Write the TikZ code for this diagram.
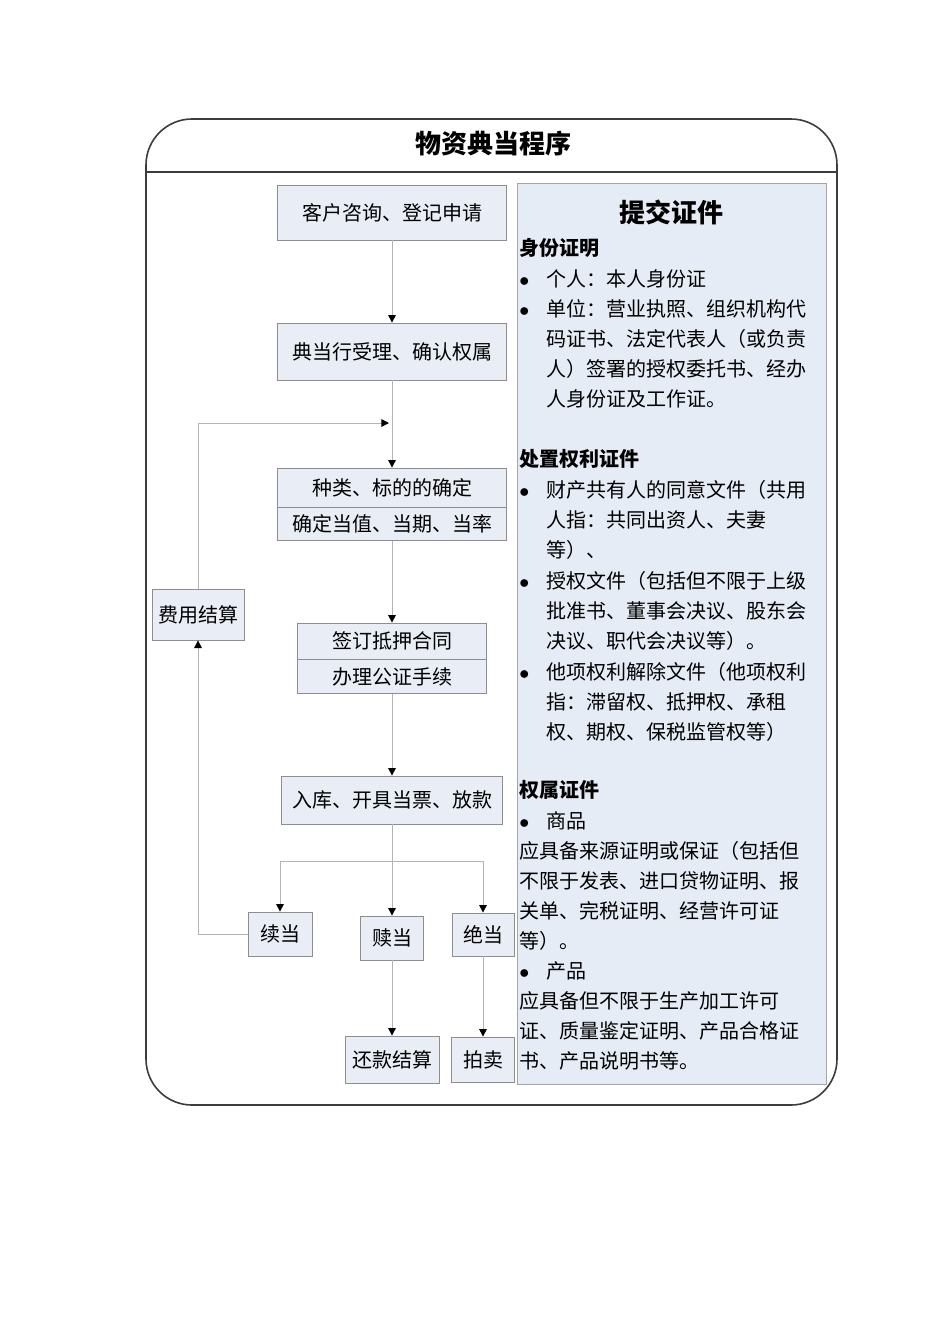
\documentclass[tikz,border=0pt]{standalone}
\usepackage{fontspec}
\setmainfont{Noto Sans CJK SC}
\usetikzlibrary{arrows.meta,positioning,shapes}
\definecolor{boxfill}{HTML}{E8EDF6}
\definecolor{boxline}{HTML}{8E8E8E}
\definecolor{panelfill}{HTML}{E6ECF5}
\definecolor{flowline}{HTML}{B4B4B4}
\definecolor{frameline}{HTML}{3C3C3C}
\newcommand{\bul}{\makebox[13.5pt][l]{$\bullet$}}
\newcommand{\ind}{\hspace*{13.5pt}}

\begin{document}
\begin{tikzpicture}[x=0.5pt, y=-0.5pt,
  box/.style={draw=boxline, fill=boxfill, inner sep=0pt, font=\fontsize{10}{12}\selectfont},
  flow/.style={draw=flowline, line width=0.5pt, -{Triangle[color=black,length=3.8pt,width=3.8pt]}},
  heading/.style={font=\fontsize{13}{15}\selectfont\bfseries}]
  \useasboundingbox (0,0) rectangle (950,1344);

  % Frame and title
  \draw[frameline, line width=0.8pt, rounded corners=23pt] (146,119) rectangle (837,1105);
  \draw[frameline, line width=0.8pt] (146,172) -- (837,172);
  \node[heading] (title) at (493,144) {物资典当程序};

  % Documents to submit
  \node[draw=boxline!80, fill=panelfill, minimum width=154.5pt, minimum height=450.5pt, inner sep=0pt] (panel) at (671.5,633.5) {};
  \node[heading] (paneltitle) at (671,212) {提交证件};
  \node[anchor=north west, align=left, inner sep=0pt, font=\fontsize{10}{15}\selectfont] (certs) at (519,238) {%
    \textbf{身份证明}\\[0.5pt]
    \bul 个人：本人身份证\\
    \bul 单位：营业执照、组织机构代\\
    \ind 码证书、法定代表人（或负责\\
    \ind 人）签署的授权委托书、经办\\
    \ind 人身份证及工作证。\\[15pt]
    \textbf{处置权利证件}\\[0.5pt]
    \bul 财产共有人的同意文件（共用\\
    \ind 人指：共同出资人、夫妻\\
    \ind 等）、\\[0.5pt]
    \bul 授权文件（包括但不限于上级\\
    \ind 批准书、董事会决议、股东会\\
    \ind 决议、职代会决议等）。\\[0.5pt]
    \bul 他项权利解除文件（他项权利\\
    \ind 指：滞留权、抵押权、承租\\
    \ind 权、期权、保税监管权等）\\[14pt]
    \textbf{权属证件}\\[0.5pt]
    \bul 商品\\
    应具备来源证明或保证（包括但\\
    不限于发表、进口贷物证明、报\\
    关单、完税证明、经营许可证\\
    等）。\\
    \bul 产品\\
    应具备但不限于生产加工许可\\
    证、质量鉴定证明、产品合格证\\
    书、产品说明书等。};

  % Steps of the procedure
  \node[box, minimum width=114.5pt, minimum height=27.5pt] (apply) at (392,212.5) {客户咨询、登记申请};
  \node[box, minimum width=114.5pt, minimum height=28.5pt] (accept) at (392,351.5) {典当行受理、确认权属};
  \node[box, minimum width=114.5pt, minimum height=19.5pt] (kind) at (392,487.5) {种类、标的的确定};
  \node[box, minimum width=114.5pt, minimum height=16.5pt, below=0pt of kind] (value) {确定当值、当期、当率};
  \node[box, minimum width=94.5pt, minimum height=18pt] (sign) at (392,641) {签订抵押合同};
  \node[box, minimum width=94.5pt, minimum height=17pt, below=0pt of sign] (notary) {办理公证手续};
  \node[box, minimum width=110.5pt, minimum height=24pt] (entry) at (392,800) {入库、开具当票、放款};
  \node[box, minimum width=46pt, minimum height=25.5pt] (fee) at (198,614.5) {费用结算};
  \node[box, minimum width=32pt, minimum height=22pt] (renew) at (280,934) {续当};
  \node[box, minimum width=31.5pt, minimum height=22pt] (redeem) at (392,938) {赎当};
  \node[box, minimum width=31pt, minimum height=21.5pt] (forfeit) at (483,934.5) {绝当};
  \node[box, minimum width=47pt, minimum height=23.5pt] (repay) at (392,1059.5) {还款结算};
  \node[box, minimum width=31.5pt, minimum height=22.5pt] (auction) at (483,1059.5) {拍卖};

  % Connectors
  \coordinate (join) at (389,423);
  \coordinate (split) at (392,861);
  \path[flow]
    (apply) edge (accept)
    (accept) edge (kind)
    (value) edge (sign)
    (notary) edge (entry)
    (entry) edge (redeem)
    (redeem) edge (repay)
    (forfeit) edge (auction);
  \draw[flow] (split) -| (renew);
  \draw[flow] (split) -| (forfeit);
  \draw[flow] (renew) -| (fee);
  \draw[flow] (fee) |- (join);
\end{tikzpicture}
\end{document}
